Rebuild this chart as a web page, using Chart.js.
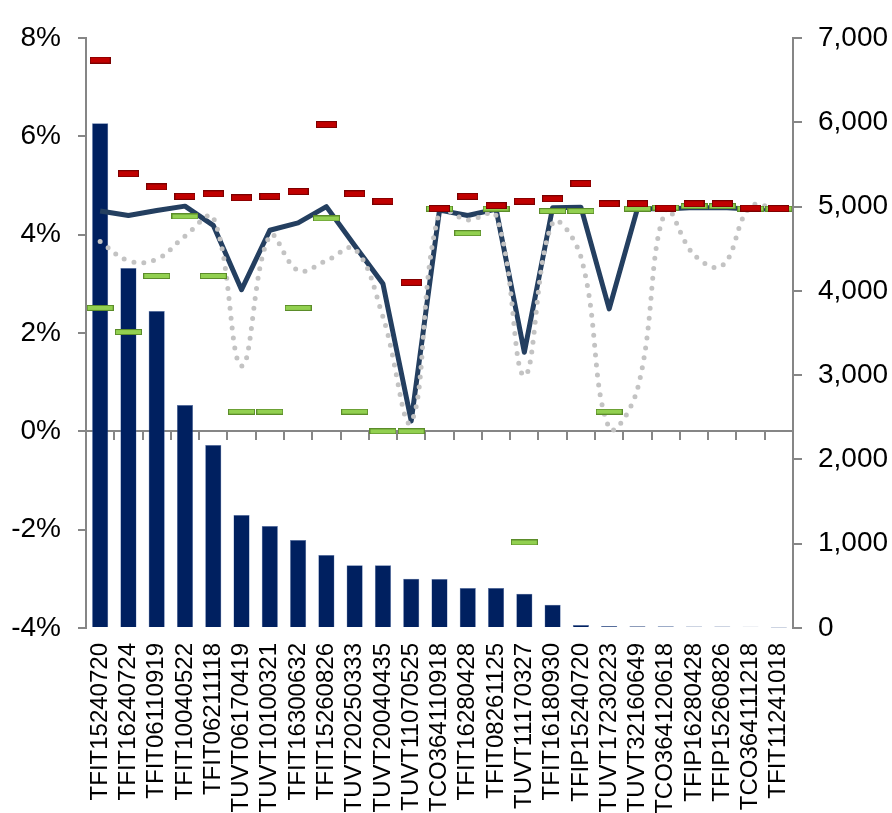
<!DOCTYPE html>
<html>
<head>
<meta charset="utf-8">
<script src="https://cdn.jsdelivr.net/npm/chart.js@4.4.1/dist/chart.umd.min.js"></script>
<style>
  html, body { margin: 0; padding: 0; background: #fff; }
  #wrap { width: 892px; height: 813px; }
</style>
</head>
<body>
<div id="wrap"><canvas id="chart" width="892" height="813"></canvas></div>
<script>
const bonds = ['TFIT15240720', 'TFIT16240724', 'TFIT06110919', 'TFIT10040522', 'TFIT06211118',
  'TUVT06170419', 'TUVT10100321', 'TFIT16300632', 'TFIT15260826', 'TUVT20250333',
  'TUVT20040435', 'TUVT11070525', 'TCO364110918', 'TFIT16280428', 'TFIT08261125',
  'TUVT11170327', 'TFIT16180930', 'TFIP15240720', 'TUVT17230223', 'TUVT32160649',
  'TCO364120618', 'TFIP16280428', 'TFIP15260826', 'TCO364111218', 'TFIT11241018'];

// bars, right axis
const volume = [5990, 4270, 3760, 2645, 2170, 1340, 1210, 1045, 865, 745, 745, 585, 580,
  475, 475, 405, 275, 36, 24, 22, 20, 18, 18, 16, 5];

// left axis, %
const lineSolid = [4.48, 4.39, 4.49, 4.58, 4.19, 2.88, 4.09, 4.24, 4.57, 3.78, 3.00, 0.21, 4.50,
  4.39, 4.52, 1.61, 4.55, 4.56, 2.49, 4.53, 4.52, 4.55, 4.55, 4.52, 4.52];
const lineDotted = [3.86, 3.47, 3.50, 3.97, 4.35, 1.33, 3.98, 3.27, 3.47, 3.71, 2.33, 0.19, 4.47,
  4.30, 4.39, 1.13, 4.24, 3.55, 0.07, 0.86, 4.49, 3.59, 3.37, 4.57, 4.50];
const redMarks = [7.55, 5.24, 4.97, 4.78, 4.83, 4.75, 4.78, 4.88, 6.24, 4.83, 4.68, 3.03, 4.53,
  4.78, 4.59, 4.68, 4.73, 5.04, 4.63, 4.63, 4.54, 4.63, 4.63, 4.54, 4.53];
const greenMarks = [2.51, 2.02, 3.16, 4.37, 3.16, 0.40, 0.40, 2.51, 4.33, 0.40, 0.00, 0.00, 4.53,
  4.03, 4.53, -2.26, 4.48, 4.48, 0.40, 4.53, 4.55, 4.58, 4.58, 4.53, 4.53];

const pctTicks = [-4, -2, 0, 2, 4, 6, 8];
const volTicks = [0, 1000, 2000, 3000, 4000, 5000, 6000, 7000];

const font = 'Liberation Sans, Arial, sans-serif';
const axisGrey = '#868686';

// small dash used as marker
const makeDash = (w, h, fill, edge) => {
  const c = document.createElement('canvas');
  c.width = w;
  c.height = h;
  const g = c.getContext('2d');
  g.fillStyle = edge;
  g.fillRect(0, 0, w, h);
  g.fillStyle = fill;
  g.fillRect(1, 1, w - 2, h - 2);
  return c;
};
const redDash = makeDash(21, 7, '#C00000', '#7A0000');
const greenDash = makeDash(27, 6, '#92D050', '#5B8C2A');

new Chart(document.getElementById('chart'), {
  type: 'bar',
  data: {
    labels: bonds,
    datasets: [
      {
        type: 'line', data: redMarks, yAxisID: 'y', order: 1,
        showLine: false, pointStyle: redDash, pointRadius: 10
      },
      {
        type: 'line', data: greenMarks, yAxisID: 'y', order: 2,
        showLine: false, pointStyle: greenDash, pointRadius: 13
      },
      {
        type: 'line', data: lineDotted, yAxisID: 'y', order: 3,
        borderColor: '#C3C3C3', borderWidth: 5, borderDash: [0, 10], borderCapStyle: 'round',
        tension: 0.4, pointRadius: 0, fill: false
      },
      {
        type: 'line', data: lineSolid, yAxisID: 'y', order: 4,
        borderColor: '#243F60', borderWidth: 5, borderJoinStyle: 'round',
        tension: 0, pointRadius: 0, fill: false
      },
      {
        type: 'bar', data: volume, yAxisID: 'y2', order: 5,
        backgroundColor: '#002060', borderColor: '#5F7BB0', borderWidth: 0.5,
        barPercentage: 0.57, categoryPercentage: 1
      }
    ]
  },
  options: {
    responsive: false,
    animation: false,
    layout: { padding: { top: 38, left: 0, right: 0, bottom: 0 } },
    plugins: { legend: { display: false }, tooltip: { enabled: false } },
    scales: {
      x: {
        offset: true,
        grid: { display: false, drawTicks: false },
        border: { display: false },
        ticks: {
          autoSkip: false, minRotation: 90, maxRotation: 90, padding: 15,
          color: '#000', font: { family: font, size: 24 }
        },
        afterFit: (s) => { s.height = 185; }
      },
      x2: {
        type: 'category',
        labels: bonds,
        position: { y: 0 },
        offset: true,
        grid: { offset: true, drawOnChartArea: false, drawTicks: true, tickLength: 8, color: axisGrey, lineWidth: 2 },
        border: { color: axisGrey, width: 2 },
        ticks: { display: false }
      },
      y: {
        position: 'left',
        min: -4, max: 8,
        afterBuildTicks: (s) => { s.ticks = pctTicks.map(v => ({ value: v })); },
        grid: { drawOnChartArea: false, drawTicks: true, tickLength: 8, color: axisGrey, lineWidth: 2 },
        border: { color: axisGrey, width: 2 },
        ticks: {
          padding: 17, color: '#000', font: { family: font, size: 28 },
          callback: (v) => v + '%'
        },
        afterFit: (s) => { s.width = 86; }
      },
      y2: {
        position: 'right',
        min: 0, max: 7000,
        afterBuildTicks: (s) => { s.ticks = volTicks.map(v => ({ value: v })); },
        grid: { drawOnChartArea: false, drawTicks: true, tickLength: 9, color: axisGrey, lineWidth: 2 },
        border: { color: axisGrey, width: 2 },
        ticks: {
          padding: 16, color: '#000', font: { family: font, size: 28 },
          callback: (v) => v.toLocaleString('en-US')
        },
        afterFit: (s) => { s.width = 99; }
      }
    }
  }
});
</script>
</body>
</html>
